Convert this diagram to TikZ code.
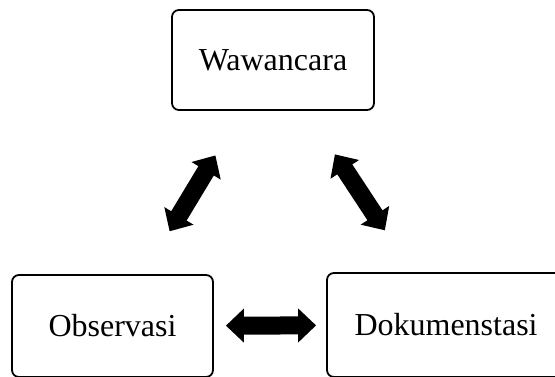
\documentclass[tikz,border=0pt]{standalone}
\usepackage{fontspec}
\setmainfont{Liberation Serif}
\usetikzlibrary{arrows.meta}
\begin{document}
\begin{tikzpicture}[x=1pt,y=1pt,
    kotak/.style={draw, line width=1.8pt, rounded corners=7pt, inner sep=0pt,
                  font=\fontsize{32}{38}\selectfont},
    panah/.style={line width=18pt,
                  {Triangle[length=18pt,width=33pt]}-{Triangle[length=18pt,width=33pt]}}]
                    \useasboundingbox (0.000000,0.000000) rectangle (555.000000,376.000000);
                    
                    % Marking box Wawancara
                    \node [kotak, minimum width=202pt, minimum height=100pt] (waw) at (273.000000,316.000000) {Wawancara};%
                    
                    % Marking box Observasi
                    \node [kotak, minimum width=201pt, minimum height=102pt] (obs) at (112.500000,50.000000) {Observasi};%
                    
                    % Marking box Dokumenstasi
                    \node [kotak, minimum width=240pt, minimum height=104pt, text width=231pt, align=left, inner xsep=0pt] (dok) at (447.000000,51.000000) {\hspace*{23pt}Dokumenstasi};%
                    
                    % Drawing arrow Wawancara Observasi
                    \draw [panah, shorten <=52pt, shorten >=50pt] (waw) -- (obs);%
                    
                    % Drawing arrow Wawancara Dokumenstasi
                    \draw [panah, shorten <=52pt, shorten >=50pt] (waw) -- (dok);%
                    
                    % Drawing arrow Observasi Dokumenstasi
                    \draw [panah, shorten <=12pt, shorten >=10pt] (obs) -- (dok);%
                \end{tikzpicture}
\end{document}
